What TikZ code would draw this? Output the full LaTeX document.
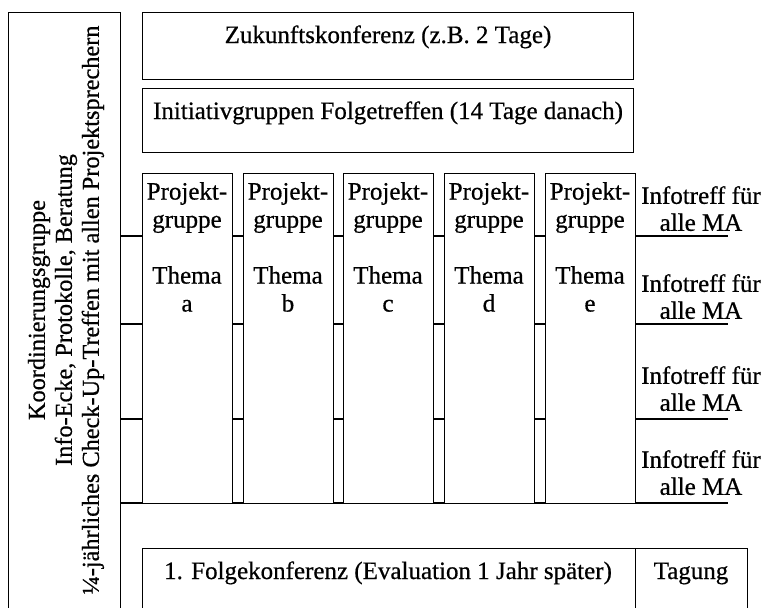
\documentclass[tikz,border=0pt]{standalone}
\usepackage{fontspec}
\setmainfont{Liberation Serif}
\newfontfamily\heavyserif{Liberation Serif}[FakeBold=0.6]
\begin{document}
\begin{tikzpicture}[x=1pt,y=-1pt,
  frame/.style={draw=black, line width=1.3pt, fill=white, inner sep=0pt, anchor=north west},
  txt/.style={inner sep=0pt, align=center, font=\heavyserif\fontsize{25}{27}\selectfont},
  pgtxt/.style={txt, anchor=north, font=\heavyserif\fontsize{25}{28}\selectfont},
  link/.style={draw=black, line width=1.3pt}]
\useasboundingbox (0,0) rectangle (761,608);
\clip (0,0) rectangle (761,608);

% coordination column on the left, open at the bottom
\node[frame, minimum width=112pt, minimum height=640pt] (koord) at (8,12) {};
\node[txt, rotate=90, font=\heavyserif\fontsize{24.3}{27}\selectfont] (koordtxt) at (66,310)
  {Koordinierungsgruppe\\Info-Ecke, Protokolle, Beratung\\¼-jährliches Check-Up-Treffen mit allen Projektsprechern};

% conferences at the top
\node[frame, minimum width=491pt, minimum height=67pt] (zk) at (142,12) {};
\node[txt, anchor=base] (zktxt) at (388,43) {Zukunftskonferenz (z.B. 2 Tage)};
\node[frame, minimum width=491pt, minimum height=64pt] (ig) at (142,88) {};
\node[txt, anchor=base] (igtxt) at (388,119) {Initiativgruppen Folgetreffen (14 Tage danach)};

% time lines running across the project groups
\coordinate (r1) at (728,236);
\coordinate (r2) at (728,324);
\coordinate (r3) at (728,419);
\coordinate (r4) at (728,503);
\foreach \r in {r1,r2,r3,r4}
  \draw[link] (koord.east |- \r) -- (\r);

% project groups
\foreach \t/\x in {a/142,b/243,c/343,d/444,e/545} {
  \node[frame, minimum width=90pt, minimum height=330pt] (pg\t) at (\x,173) {};
  \node[pgtxt] (pgtxt\t) at ([xshift=45pt]pg\t.north west |- 0,182) {Projekt-\\gruppe\\[28pt]Thema\\\t};
}

% information meetings for all staff
\foreach \n/\y in {1/186,2/274,3/366,4/450}
  \node[txt, anchor=north] (info\n) at (701,\y) {Infotreff für\\alle MA};

% follow-up conference at the bottom
\node[frame, minimum width=493pt, minimum height=80pt] (fk) at (142,548) {};
\node[frame, minimum width=112pt, minimum height=80pt] (tg) at (635,548) {};
\node[txt, anchor=base] (fktxt) at (388,579) {1. Folgekonferenz (Evaluation 1 Jahr später)};
\node[txt, anchor=base] (tgtxt) at (691,579) {Tagung};
\end{tikzpicture}
\end{document}
